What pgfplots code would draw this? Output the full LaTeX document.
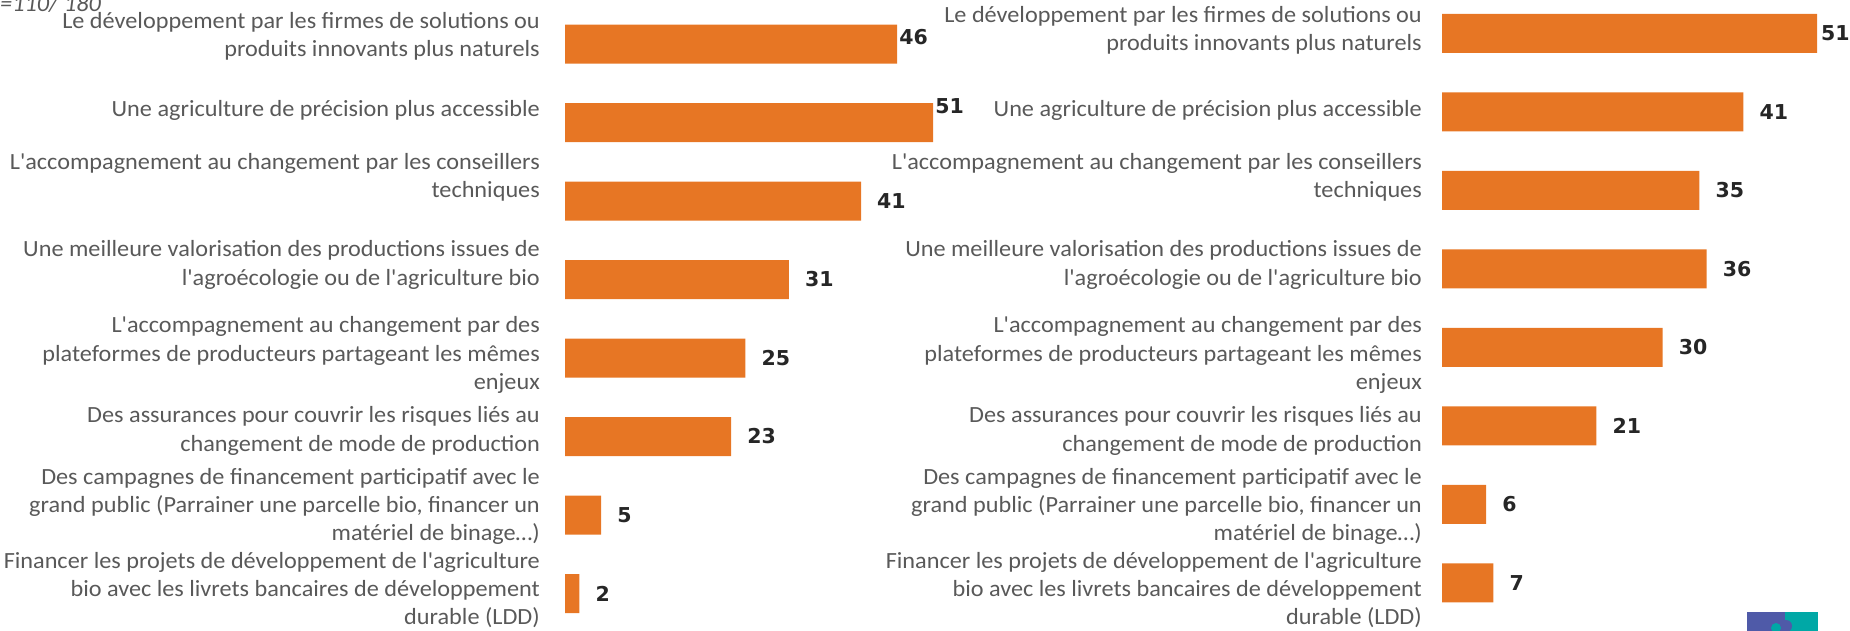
\documentclass[border=0pt]{standalone}
\usepackage{pgfplots}
\pgfplotsset{compat=1.18}
\usepackage{pgfplotstable}
\usepackage{fontspec}
\setmainfont{Carlito}[Ligatures=TeXOff, FakeStretch=1.045]
\newfontfamily\numfam{DejaVu Sans}
\definecolor{barorange}{HTML}{E77624}
\definecolor{labgray}{HTML}{595959}
\definecolor{numdark}{HTML}{262626}
\definecolor{logopurple}{HTML}{4F5AA8}
\definecolor{logoteal}{HTML}{00A8A6}
\newcommand\labfont{\fontsize{23.2bp}{28.3bp}\selectfont}
\newcommand\numfont{\numfam\fontsize{20.5bp}{25bp}\selectfont\bfseries}

% pos value label-dx label-dy
\pgfplotstableread{
pos val dx dy
1 46 2 7
2 51 2 16
3 41 16 0
4 31 16 0
5 25 16 0
6 23 16 0
7 5 16 0
8 2 16 0
}\leftdata
\pgfplotstableread{
pos val dx dy
1 51 4 0
2 41 16 0
3 35 16 0
4 36 16 0
5 30 16 0
6 21 16 0
7 6 16 0
8 7 16 0
}\rightdata

\pgfplotsset{panel/.style={
  scale only axis, xbar, bar width=39bp, bar shift=0pt,
  y dir=reverse, ymin=0.5, ymax=8.5, height=628bp,
  xmin=0, xmax=51, axis line style={draw=none}, xtick=\empty,
  major tick length=0pt, clip=false,
  /pgf/number format/assume math mode=true,
  yticklabel style={font=\labfont, text=labgray, align=right, anchor=east, inner sep=0pt},
  yticklabels={{Le développement par les firmes de solutions ou\\produits innovants plus naturels},
   {Une agriculture de précision plus accessible},
   {L'accompagnement au changement par les conseillers\\techniques},
   {Une meilleure valorisation des productions issues de\\l'agroécologie ou de l'agriculture bio},
   {L'accompagnement au changement par des\\plateformes de producteurs partageant les mêmes\\enjeux},
   {Des assurances pour couvrir les risques liés au\\changement de mode de production},
   {Des campagnes de financement participatif avec le\\grand public (Parrainer une parcelle bio, financer un\\matériel de binage…)},
   {Financer les projets de développement de l'agriculture\\bio avec les livrets bancaires de développement\\durable (LDD)}},
  point meta=x,
  nodes near coords,
  visualization depends on={\thisrow{dx} \as \dx},
  visualization depends on={\thisrow{dy} \as \dy},
  nodes near coords style={font=\numfont, text=numdark, anchor=west, inner sep=0pt,
    xshift=\dx bp, yshift=\dy bp},
}}

\begin{document}
\begin{tikzpicture}
\useasboundingbox (0,-631bp) rectangle (1850bp,0);
\node[anchor=base west, inner sep=0pt, font=\labfont\itshape, text=labgray] at (0,-11bp) {\llap{N}=110/ 180};

\begin{axis}[panel, at={(565bp,-4.75bp)}, anchor=north west, width=368.2bp,
  ytick={0.898,1.841,2.694,3.815,4.962,5.930,6.890,7.955},
  yticklabel style={xshift=-25bp}]
 \addplot[fill=barorange, draw=none] table[x=val, y=pos] {\leftdata};
\end{axis}

\begin{axis}[panel, at={(1442bp,5.85bp)}, anchor=north west, width=375bp,
  ytick={0.957,1.976,2.829,3.950,5.096,6.065,7.025,8.091},
  yticklabel style={xshift=-20bp}]
 \addplot[fill=barorange, draw=none] table[x=val, y=pos] {\rightdata};
\end{axis}

% logo fragment, bottom right
\fill[logopurple] (1747bp,-612bp) rectangle (1785bp,-631bp);
\fill[logoteal] (1785bp,-612bp) rectangle (1818bp,-631bp);
\fill[logopurple] (1786bp,-626bp) circle (6bp);
\fill[logoteal] (1776bp,-628bp) circle (5bp);
\end{tikzpicture}
\end{document}
